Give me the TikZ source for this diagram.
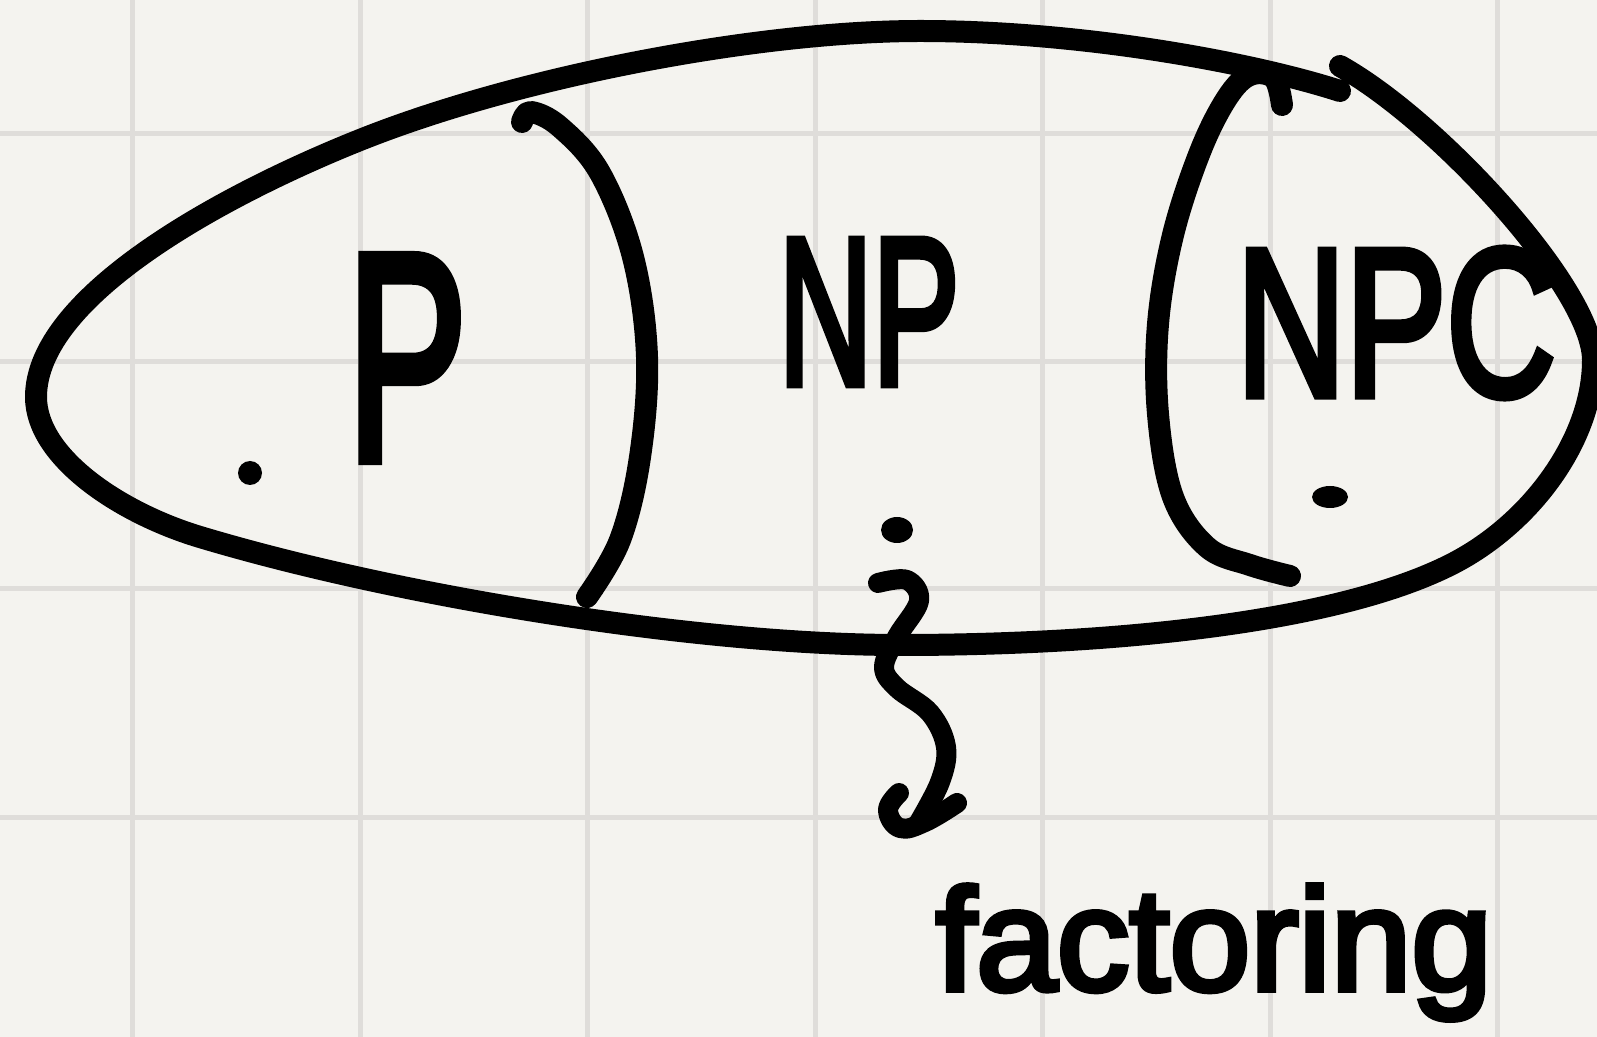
\documentclass[tikz,border=0pt]{standalone}
\usepackage{fontspec}
\setmainfont{Liberation Sans}
\newfontfamily\handfont[FakeBold=4]{Liberation Sans}
\definecolor{bgc}{HTML}{F4F3EF}
\definecolor{gridc}{HTML}{DFDDDA}
\begin{document}
\begin{tikzpicture}[x=0.5pt,y=-0.5pt,
  ink/.style={draw=black, line width=11pt, line cap=round, line join=round},
  gridline/.style={draw=gridc, line width=2.5pt},
  hand/.style={inner sep=0pt, text=black}]
\fill[bgc] (0,0) rectangle (1597,1037);
\useasboundingbox (0,0) rectangle (1597,1037);
\foreach \x in {132,360,587,815,1042,1270,1497} \draw[gridline] (\x,0) -- (\x,1037);
\foreach \y in {134,362,589,817} \draw[gridline] (0,\y) -- (1597,\y);
% big egg
\draw[ink] (1340,91) .. controls (1250,62) and (1080,31) .. (920,31)
  .. controls (760,31) and (520,76) .. (360,140)
  .. controls (220,196) and (36,297) .. (36,397)
  .. controls (36,457) and (120,513) .. (200,537)
  .. controls (400,597) and (700,645) .. (900,645)
  .. controls (1100,645) and (1330,625) .. (1450,565)
  .. controls (1530,525) and (1593,440) .. (1593,360)
  .. controls (1593,290) and (1440,122) .. (1340,66);
% right bracket )
\draw[ink] plot[smooth, tension=0.6] coordinates {
 (522,122) (531,112) (560,127) (600,173) (633,257) (647,357) (640,457) (620,540) (587,597)};
% left bracket (
\draw[ink] plot[smooth, tension=0.6] coordinates {
 (1282,105) (1274,78) (1250,75) (1227,98) (1200,152) (1173,235) (1158,324)
 (1158,414) (1173,497) (1207,547) (1250,565) (1290,576)};
% labels
\node[hand, font=\handfont\fontsize{147}{147}\selectfont, xscale=0.61] (p) at (407,358) {P};
\node[hand, font=\handfont\fontsize{105}{105}\selectfont, xscale=0.62] (np) at (869,312) {NP};
\node[hand, font=\handfont\fontsize{105}{105}\selectfont, xscale=0.72] (npc) at (1396,323) {NPC};
\node[hand, font=\handfont\fontsize{72.5}{72.5}\selectfont, anchor=base] (fac) at (1214,990) {factoring};
% dots
\fill[black] (250,473) circle[radius=12];
\fill[black] (897,530) ellipse[x radius=16, y radius=13];
\fill[black] (1330,497) ellipse[x radius=18, y radius=11];
% squiggle arrow
\draw[ink, line width=10pt] plot[smooth, tension=0.6] coordinates {
 (878,583) (907,580) (919,601) (897,637) (884,667) (897,688) (930,713) (946,747) (940,782) (918,824)};
\draw[ink, line width=10pt] plot[smooth, tension=0.7] coordinates {
 (899,793) (888,810) (900,828) (925,822) (957,803)};
\end{tikzpicture}
\end{document}
